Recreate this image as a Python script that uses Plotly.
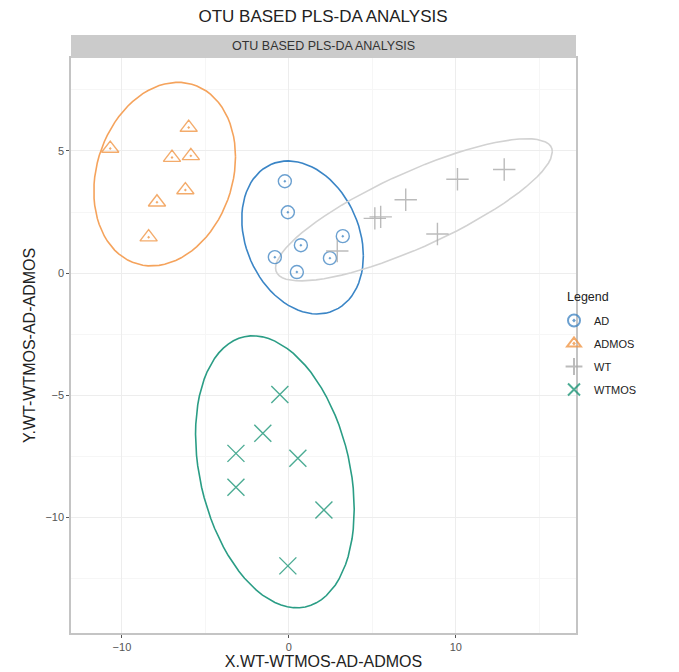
import numpy as np
import plotly.graph_objects as go

# ---------------- data ----------------
groups = ["AD", "ADMOS", "WT", "WTMOS"]

ad_x = [-0.24, -0.06, 0.72, -0.84, 0.48, 2.46, 3.23]
ad_y = [3.76, 2.49, 1.14, 0.65, 0.04, 0.61, 1.51]

admos_x = [-10.7, -6.0, -7.0, -5.87, -6.2, -7.9, -8.4]
admos_y = [5.1, 5.96, 4.73, 4.8, 3.4, 2.9, 1.47]

wt_x = [5.15, 5.5, 7.0, 8.9, 10.1, 12.9, 2.9]
wt_y = [2.24, 2.3, 3.0, 1.6, 3.84, 4.24, 0.9]

wtmos_x = [-0.54, -1.56, -3.17, 0.54, -3.17, 2.1, -0.06]
wtmos_y = [-4.98, -6.57, -7.39, -7.59, -8.78, -9.71, -12.0]

x_ticks = [-10, 0, 10]
y_ticks = [-10, -5, 0, 5]

title_text = "OTU BASED PLS-DA ANALYSIS"
x_title = "X.WT-WTMOS-AD-ADMOS"
y_title = "Y.WT-WTMOS-AD-ADMOS"
legend_title = "Legend"

# ---------------- styles ----------------
point_colors = {"AD": "rgba(58,128,192,0.75)", "ADMOS": "rgba(240,150,70,0.8)",
                "WT": "rgba(170,170,170,0.8)", "WTMOS": "rgba(30,150,120,0.8)"}
ell_colors = {"AD": "#3a85c6", "ADMOS": "#f5a35c", "WT": "#d2d2d2", "WTMOS": "#2a9d85"}
symbols = {"AD": "circle-open-dot", "ADMOS": "triangle-up-open-dot",
           "WT": "cross-thin-open", "WTMOS": "x-thin-open"}
sizes = {"AD": 13, "ADMOS": 15, "WT": 16, "WTMOS": 17}
LEVEL = 0.95

OFF = 8  # page body margin of the html page


def ellipse(xs, ys, level=LEVEL, segments=80):
    X = np.column_stack([xs, ys]).astype(float)
    center = X.mean(axis=0)
    shape = np.cov(X.T)
    radius = np.sqrt(-2.0 * np.log(1 - level))  # sqrt(qchisq(level, 2))
    R = np.linalg.cholesky(shape).T
    ang = np.arange(segments + 1) * 2 * np.pi / segments
    uc = np.column_stack([np.cos(ang), np.sin(ang)])
    e = center + radius * (uc @ R)
    return e[:, 0], e[:, 1]


data = {"AD": (ad_x, ad_y), "ADMOS": (admos_x, admos_y),
        "WT": (wt_x, wt_y), "WTMOS": (wtmos_x, wtmos_y)}

fig = go.Figure()
for g in groups:
    xs, ys = data[g]
    ex, ey = ellipse(xs, ys)
    fig.add_trace(go.Scatter(x=ex, y=ey, mode="lines", showlegend=False,
                             line=dict(color=ell_colors[g], width=1.6),
                             hoverinfo="skip"))
for g in groups:
    xs, ys = data[g]
    fig.add_trace(go.Scatter(x=xs, y=ys, mode="markers", name=g, legendgroup=g,
                             marker=dict(symbol=symbols[g], size=sizes[g],
                                         color=point_colors[g],
                                         line=dict(color=point_colors[g], width=1.4))))

grid_col = "#ededed"
fig.update_xaxes(range=[-13.05, 17.2], tickvals=x_ticks, ticks="outside", ticklen=3,
                 tickcolor="#555", tickfont=dict(size=11, color="#555"),
                 showgrid=True, gridcolor=grid_col, gridwidth=1, automargin=False,
                 minor=dict(tickvals=[-5, 5, 15], showgrid=True, gridcolor="#f6f6f6", gridwidth=1),
                 zeroline=False, showline=True, mirror=True, linecolor="#c4c4c4", linewidth=1.5,
                 title=dict(text=x_title, font=dict(size=16, color="#222"), standoff=3))
fig.update_yaxes(range=[-14.75, 8.81], tickvals=y_ticks, ticks="outside", ticklen=3,
                 tickcolor="#555", tickfont=dict(size=11, color="#555"),
                 showgrid=True, gridcolor=grid_col, gridwidth=1, automargin=False,
                 minor=dict(tickvals=[-12.5, -7.5, -2.5, 2.5, 7.5], showgrid=True,
                            gridcolor="#f6f6f6", gridwidth=1),
                 zeroline=False, showline=True, mirror=True, linecolor="#c4c4c4", linewidth=1.5,
                 title=dict(text=y_title, font=dict(size=16, color="#222"), standoff=6))

fig.add_shape(type="rect", xref="paper", yref="paper", x0=0, x1=1, y0=1.0, y1=1.0 + 23 / 575,
              fillcolor="#cbcbcb", line=dict(color="#cbcbcb", width=0), layer="above")
fig.add_annotation(text=title_text, xref="paper", yref="paper", x=0.5, y=1.0 + 11.5 / 575,
                   showarrow=False, font=dict(size=12.5, color="#333"), yanchor="middle")
fig.add_annotation(text=legend_title, xref="paper", yref="paper", x=(565 - 71) / 505,
                   y=(633 - 297) / 575, xanchor="left", yanchor="middle", showarrow=False,
                   font=dict(size=12.5, color="#222"))

fig.update_layout(
    width=679 - OFF, height=672 - OFF,
    margin=dict(l=71 - OFF, r=103, t=58 - OFF, b=39),
    paper_bgcolor="white", plot_bgcolor="white",
    font=dict(family="Liberation Sans, Arial, sans-serif"),
    title=dict(text=title_text, x=(323 - OFF) / (679 - OFF), xanchor="center",
               y=1.0, yanchor="top", pad=dict(t=2),
               font=dict(size=17, color="#222")),
    legend=dict(x=(554 - 71) / 505, xanchor="left", y=(633 - 306) / 575, yanchor="top",
                font=dict(size=11, color="#222"), tracegroupgap=4,
                itemsizing="constant", bgcolor="rgba(0,0,0,0)"),
)

fig.write_html("out.html")
